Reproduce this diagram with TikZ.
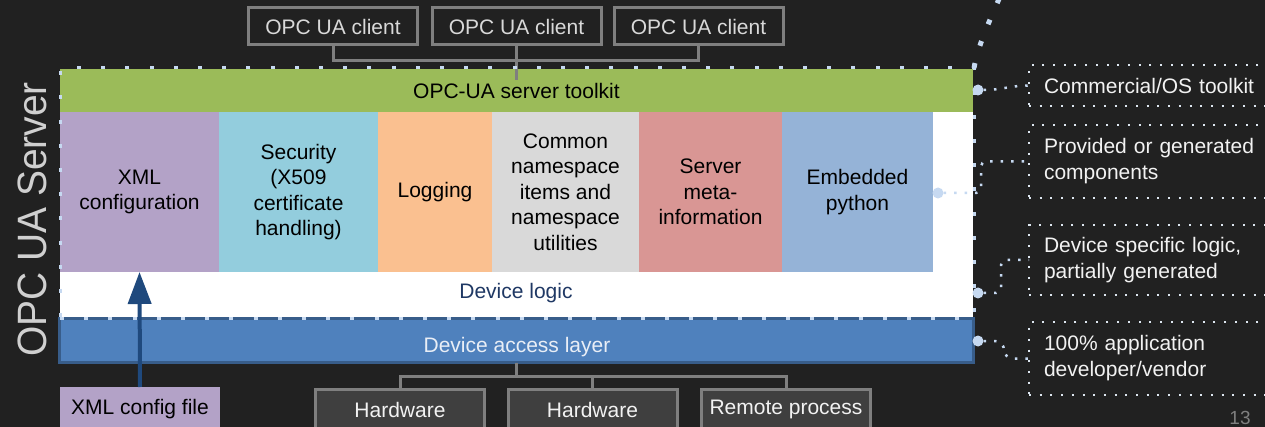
\documentclass[tikz,border=0pt]{standalone}
\usepackage{fontspec}
\setmainfont{Liberation Sans}
\usetikzlibrary{arrows.meta}

\definecolor{bg}{HTML}{212121}
\definecolor{edgegray}{HTML}{7F7F7F}
\definecolor{clienttext}{HTML}{D9D9D9}
\definecolor{hwfill}{HTML}{3F3F3F}
\definecolor{hwtext}{HTML}{F2F2F2}
\definecolor{toolkitgreen}{HTML}{9BBB59}
\definecolor{xmlpurple}{HTML}{B3A2C7}
\definecolor{secblue}{HTML}{93CDDD}
\definecolor{logorange}{HTML}{FAC090}
\definecolor{comgray}{HTML}{D9D9D9}
\definecolor{metared}{HTML}{D99694}
\definecolor{pyblue}{HTML}{95B3D7}
\definecolor{dalfill}{HTML}{4F81BD}
\definecolor{dalborder}{HTML}{385D8A}
\definecolor{daltext}{HTML}{E9EEF6}
\definecolor{logicnavy}{HTML}{1F3864}
\definecolor{arrowblue}{HTML}{1F497D}
\definecolor{frameblue}{HTML}{C6D9F1}
\definecolor{notewhite}{HTML}{DDE6F0}
\definecolor{notetext}{HTML}{F2F2F2}
\definecolor{titlegray}{HTML}{D0D0D0}
\definecolor{pagegray}{HTML}{7F7F7F}

\begin{document}
\begin{tikzpicture}[
  x=1pt, y=-1pt,
  every node/.style={outer sep=0pt, inner sep=0pt, font=\fontsize{21}{25.5}\selectfont},
  client/.style={draw=edgegray, line width=3pt, fill=bg, text=clienttext,
    minimum width=169pt, minimum height=37pt},
  hwbox/.style={draw=edgegray, line width=3pt, fill=hwfill, text=hwtext,
    minimum width=169pt, minimum height=40pt, anchor=north},
  layer/.style={fill=#1, anchor=north west, minimum height=160pt,
    align=center, text=black},
  conn/.style={draw=edgegray, line width=3pt},
  frame/.style={draw=frameblue, line width=3pt, dash pattern=on 4pt off 20.2pt},
  note/.style={draw=notewhite, line width=2pt, dash pattern=on 2pt off 8.7pt,
    anchor=north west, text width=230pt, inner xsep=15pt, align=left,
    text=notetext, font=\fontsize{21}{26}\selectfont},
  dotconn/.style={draw=frameblue, line width=2.5pt, dash pattern=on 2.5pt off 8pt,
    rounded corners=5pt},
  dotend/.style={circle, fill=frameblue, minimum size=11pt}
]
% canvas
\fill[bg] (0,0) rectangle (1265,427);
\useasboundingbox (0,0) rectangle (1265,427);

% clients
\node[client] (c1) at (333,26.5) {OPC UA client};
\node[client] (c2) at (516.5,26.5) {OPC UA client};
\node[client] (c3) at (698.5,26.5) {OPC UA client};

% server body
\node[fill=white, anchor=north west, minimum width=913pt, minimum height=205pt] (logic) at (60,112) {};
\node[fill=toolkitgreen, anchor=north west, minimum width=913pt, minimum height=43pt, text=black] (tk) at (60,69) {OPC-UA server toolkit};

\node[layer=xmlpurple, minimum width=159pt] (xml) at (60,112) {XML\\configuration};
\node[layer=secblue, minimum width=159pt] (sec) at (219,112) {Security\\(X509\\certificate\\handling)};
\node[layer=logorange, minimum width=114pt] (log) at (378,112) {Logging};
\node[layer=comgray, minimum width=147pt] (com) at (492,112) {Common\\namespace\\items and\\namespace\\utilities};
\node[layer=metared, minimum width=143pt] (meta) at (639,112) {Server\\meta-\\information};
\node[layer=pyblue, minimum width=151pt, font=\fontsize{21}{26.5}\selectfont] (emb) at (782,112) {Embedded\\python};

\node[text=logicnavy] (logictxt) at (516,293) {Device logic};

% device access layer
\node[draw=dalborder, line width=3.5pt, fill=dalfill, minimum width=914pt, minimum height=44pt] (dal) at (516.5,340.5) {};
\node[text=daltext, anchor=base] (daltxt) at (517,352) {Device access layer};

% client connectors
\draw[conn] (c1.south) -- ++(0,16) -| (c3.south);
\draw[conn] (c2.south) -- ++(0,35);

% server frame
\node[frame, anchor=north west, minimum width=914pt, minimum height=250pt] (srv) at (60,68) {};
\draw[draw=frameblue, line width=5pt, dash pattern=on 5pt off 18pt]
  (srv.north east) .. controls (978,45) and (990,20) .. (1002,-8);
\node[rotate=90, text=titlegray, font=\fontsize{41}{48}\selectfont] (title) at (32,219.5)
  {\scalebox{0.95}[1]{OPC UA Server}};

% hardware
\node[hwbox] (hw1) at (400,389.5) {Hardware};
\node[hwbox] (hw2) at (592.5,389.5) {Hardware};
\node[hwbox] (rp) at (786,389.5) {Remote process};
\draw[conn] (dal.south) -- ++(0,14);
\draw[conn] (hw1.north) -- ++(0,-13) -| (rp.north);
\draw[conn] (hw2.north) -- ++(0,-13);

% xml config file
\node[fill=xmlpurple, anchor=north west, minimum width=160pt, minimum height=44pt, text=black] (xmlf) at (60,387) {XML config file};
\draw[draw=arrowblue, line width=4pt, -{Triangle[width=23pt,length=32pt]}] (xmlf.north) -- (xml.south);

% notes
\node[note, minimum height=41pt] (nA) at (1029,65) {Commercial/OS toolkit};
\node[note, minimum height=73pt] (nB) at (1029,125) {Provided or generated\\components};
\node[note, minimum height=70pt] (nC) at (1029,225) {Device specific logic,\\partially generated};
\node[note, minimum height=73pt] (nD) at (1029,322) {100\% application\\developer/vendor};

\node[dotend] (eA) at (978,90) {};
\node[dotend] (eB) at (938,193) {};
\node[dotend] (eC) at (978,293) {};
\node[dotend] (eD) at (978,341) {};

\draw[dotconn] (eA.east) to[out=0,in=180] (nA.west);
\draw[dotconn] (eB.east) -- (981,193) |- (nB.west);
\draw[dotconn] (eC.east) -- (1001,293) |- (nC.west);
\draw[dotconn, rounded corners=9pt] (eD.east) -- (1004,341) |- (nD.west);

% page number
\node[text=pagegray, anchor=base, font=\fontsize{19}{22}\selectfont] (pg) at (1240,424) {13};
\end{tikzpicture}
\end{document}
